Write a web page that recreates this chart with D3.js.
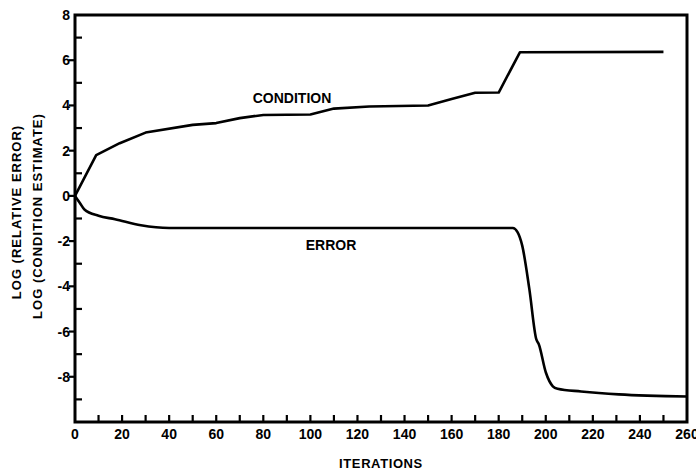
<!DOCTYPE html>
<html>
<head>
<meta charset="utf-8">
<script src="https://cdn.jsdelivr.net/npm/d3@7"></script>
<style>
  body { margin: 0; background: #fff; }
  text { font-family: "Liberation Sans", Arial, sans-serif; font-weight: bold; fill: #000; }
</style>
</head>
<body>
<script>
// iterations / log values
var condIter = [0, 9, 19, 30, 50, 60, 70, 80, 100, 110, 125, 150, 160, 170, 180, 189, 250];
var condLog  = [0, 1.8, 2.33, 2.8, 3.14, 3.22, 3.44, 3.58, 3.6, 3.86, 3.95, 4.0, 4.28, 4.56, 4.57, 6.35, 6.37];

var errIter = [0, 2, 4, 10, 17, 28, 40, 186, 188, 190, 193, 196, 197, 200, 203, 205, 215, 231, 260];
var errLog  = [0, -0.3, -0.6, -0.88, -1.03, -1.3, -1.42, -1.42, -1.6, -2.2, -4.1, -6.35, -6.55, -7.8, -8.42, -8.53, -8.65, -8.78, -8.87];

var xTicks = d3.range(0, 261, 20);
var yTicks = [8, 6, 4, 2, 0, -2, -4, -6, -8];

var width = 696, height = 471;
var margin = {top: 15, right: 9, bottom: 49, left: 75};

var svg = d3.select("body").append("svg")
  .attr("width", width)
  .attr("height", height);

var x = d3.scaleLinear().domain([0, 260]).range([margin.left, width - margin.right]);
var y = d3.scaleLinear().domain([-10, 8]).range([height - margin.bottom, margin.top]);

// frame
svg.append("rect")
  .attr("x", x(0)).attr("y", y(8))
  .attr("width", x(260) - x(0)).attr("height", y(-10) - y(8))
  .style("fill", "none").style("stroke", "#000").style("stroke-width", 3);

// x ticks every 10, pointing inward
svg.append("g").selectAll("line")
  .data(d3.range(10, 260, 10))
  .enter().append("line")
  .attr("x1", function(d) { return x(d); }).attr("x2", function(d) { return x(d); })
  .attr("y1", y(-10)).attr("y2", y(-10) - 7)
  .style("stroke", "#000").style("stroke-width", 2.2);

// y ticks: even ones outward, odd ones inward
svg.append("g").selectAll("line")
  .data(d3.range(-9, 8, 1))
  .enter().append("line")
  .attr("x1", x(0))
  .attr("x2", function(d) { return d % 2 === 0 ? x(0) - 6 : x(0) + 7; })
  .attr("y1", function(d) { return y(d); }).attr("y2", function(d) { return y(d); })
  .style("stroke", "#000").style("stroke-width", 2.2);

// tick labels
svg.append("g").selectAll("text")
  .data(xTicks)
  .enter().append("text")
  .attr("x", function(d) { return x(d); })
  .attr("y", y(-10) + 17)
  .attr("text-anchor", "middle")
  .style("font-size", "14px")
  .text(function(d) { return d; });

svg.append("g").selectAll("text")
  .data(yTicks)
  .enter().append("text")
  .attr("x", x(0) - 5)
  .attr("y", function(d) { return y(d) + 5; })
  .attr("text-anchor", "end")
  .style("font-size", "14px")
  .text(function(d) { return d; });

// curves
var condData = condIter.map(function(d, i) { return [d, condLog[i]]; });
var errData = errIter.map(function(d, i) { return [d, errLog[i]]; });

var line = d3.line()
  .x(function(d) { return x(d[0]); })
  .y(function(d) { return y(d[1]); });

svg.append("path")
  .datum(condData)
  .attr("d", line)
  .style("fill", "none").style("stroke", "#000").style("stroke-width", 2.6)
  .style("stroke-linejoin", "round");

svg.append("path")
  .datum(errData)
  .attr("d", line.curve(d3.curveMonotoneX))
  .style("fill", "none").style("stroke", "#000").style("stroke-width", 2.6)
  .style("stroke-linejoin", "round");

// curve labels
svg.append("text").attr("x", 292).attr("y", 103)
  .attr("text-anchor", "middle").style("font-size", "14px").text("CONDITION");
svg.append("text").attr("x", 331).attr("y", 250)
  .attr("text-anchor", "middle").style("font-size", "14px").text("ERROR");

// axis titles
svg.append("text")
  .attr("x", (x(0) + x(260)) / 2).attr("y", 468)
  .attr("text-anchor", "middle").style("font-size", "13px")
  .style("letter-spacing", "0.6px")
  .text("ITERATIONS");

svg.append("text")
  .attr("transform", "translate(21,212)rotate(-90)")
  .attr("text-anchor", "middle").style("font-size", "13px")
  .style("letter-spacing", "1px")
  .text("LOG (RELATIVE ERROR)");

svg.append("text")
  .attr("transform", "translate(42,216)rotate(-90)")
  .attr("text-anchor", "middle").style("font-size", "13px")
  .style("letter-spacing", "1px")
  .text("LOG (CONDITION ESTIMATE)");
</script>
</body>
</html>
